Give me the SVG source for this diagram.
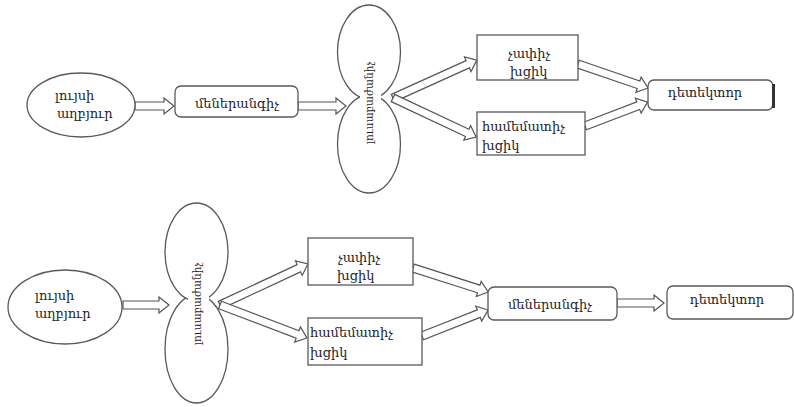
<svg xmlns="http://www.w3.org/2000/svg" width="794" height="407" viewBox="0 0 794 407">
<style>
.shape{fill:#fff;stroke:#5a5a5a;stroke-width:1.3}
.arr{fill:#fff;stroke:#555;stroke-width:1.2;stroke-linejoin:miter}
.t{font-family:"DejaVu Serif","Liberation Serif",serif;font-size:13px;fill:#1e1e2e}
.v{font-size:10.5px}
.c{text-anchor:middle}
</style>
<rect width="794" height="407" fill="#fff"/>

<g id="connectors">
<path class="arr" d="M0,-4 L29,-4 L29,-8 L39,0 L29,8 L29,4 L0,4 Z" transform="translate(135,106)"/>
<path class="arr" d="M0,-4 L38,-4 L38,-8 L48,0 L38,8 L38,4 L0,4 Z" transform="translate(298,106)"/>
<path class="arr" d="M0,-4 L82,-4 L82,-8 L92,0 L82,8 L82,4 L0,4 Z" transform="translate(393,98) rotate(-24.3)"/>
<path class="arr" d="M0,-4 L82,-4 L82,-8 L92,0 L82,8 L82,4 L0,4 Z" transform="translate(393,98) rotate(25.2)"/>
<path class="arr" d="M0,-4 L64,-4 L64,-8 L74,0 L64,8 L64,4 L0,4 Z" transform="translate(578,64) rotate(18.9)"/>
<path class="arr" d="M0,-4 L57,-4 L57,-8 L67,0 L57,8 L57,4 L0,4 Z" transform="translate(585,126) rotate(-20.9)"/>
<path class="arr" d="M0,-4 L36,-4 L36,-8 L46,0 L36,8 L36,4 L0,4 Z" transform="translate(123,305)"/>
<path class="arr" d="M0,-4 L87,-4 L87,-8 L97,0 L87,8 L87,4 L0,4 Z" transform="translate(220,305) rotate(-25)"/>
<path class="arr" d="M0,-4 L83,-4 L83,-8 L93,0 L83,8 L83,4 L0,4 Z" transform="translate(220,305) rotate(20.8)"/>
<path class="arr" d="M0,-4 L69,-4 L69,-8 L79,0 L69,8 L69,4 L0,4 Z" transform="translate(413,268) rotate(17.7)"/>
<path class="arr" d="M0,-4 L61,-4 L61,-8 L71,0 L61,8 L61,4 L0,4 Z" transform="translate(422,336) rotate(-21.5)"/>
<path class="arr" d="M0,-4 L37,-4 L37,-8 L47,0 L37,8 L37,4 L0,4 Z" transform="translate(617,303)"/>
</g>

<g id="source1">
<ellipse class="shape" cx="81" cy="105" rx="54" ry="32"/>
<text class="t" x="55" y="100">լույսի</text>
<text class="t" x="57" y="118">աղբյուր</text>
</g>
<g id="mono1">
<rect class="shape" x="175" y="86" width="123" height="31" rx="6"/>
<text class="t c" x="237" y="108">մեներանգիչ</text>
</g>
<g id="splitter1">
<ellipse class="shape" cx="369" cy="144" rx="31.5" ry="49"/>
<ellipse class="shape" cx="369" cy="52" rx="31.5" ry="47"/>
<rect x="360" y="60" width="21" height="88" fill="#fff"/>
<text class="t v c" transform="translate(373,103) rotate(-90)">լուսաբաժանիչ</text>
</g>
<g id="meas1">
<rect class="shape" x="477" y="35" width="101" height="45"/>
<text class="t" x="508" y="58">չափիչ</text>
<text class="t" x="510" y="76">խցիկ</text>
</g>
<g id="ref1">
<rect class="shape" x="477" y="112" width="108" height="43"/>
<text class="t" x="482" y="131">համեմատիչ</text>
<text class="t" x="482" y="150">խցիկ</text>
</g>
<g id="det1">
<rect class="shape" x="648" y="80" width="125" height="30" rx="6"/>
<line x1="773.5" y1="84" x2="773.5" y2="108" stroke="#333" stroke-width="3"/>
<text class="t c" x="705" y="97">դետեկտոր</text>
</g>

<g id="source2">
<ellipse class="shape" cx="65" cy="307" rx="57" ry="37"/>
<text class="t" x="35" y="300">լույսի</text>
<text class="t" x="35" y="318">աղբյուր</text>
</g>
<g id="splitter2">
<ellipse class="shape" cx="196.5" cy="349" rx="31.5" ry="54"/>
<ellipse class="shape" cx="196.5" cy="252" rx="31.5" ry="49"/>
<rect x="188" y="258" width="21" height="94" fill="#fff"/>
<text class="t v c" transform="translate(201,304) rotate(-90)">լուսաբաժանիչ</text>
</g>
<g id="meas2">
<rect class="shape" x="308" y="238" width="105" height="47"/>
<text class="t" x="338" y="262">չափիչ</text>
<text class="t" x="337" y="280">խցիկ</text>
</g>
<g id="ref2">
<rect class="shape" x="308" y="318" width="114" height="47"/>
<text class="t" x="310" y="337">համեմատիչ</text>
<text class="t" x="310" y="357">խցիկ</text>
</g>
<g id="mono2">
<rect class="shape" x="488" y="287" width="129" height="33" rx="6"/>
<text class="t c" x="550" y="309">մեներանգիչ</text>
</g>
<g id="det2">
<rect class="shape" x="667" y="286" width="126" height="33" rx="6"/>
<text class="t c" x="727" y="304">դետեկտոր</text>
</g>
</svg>
